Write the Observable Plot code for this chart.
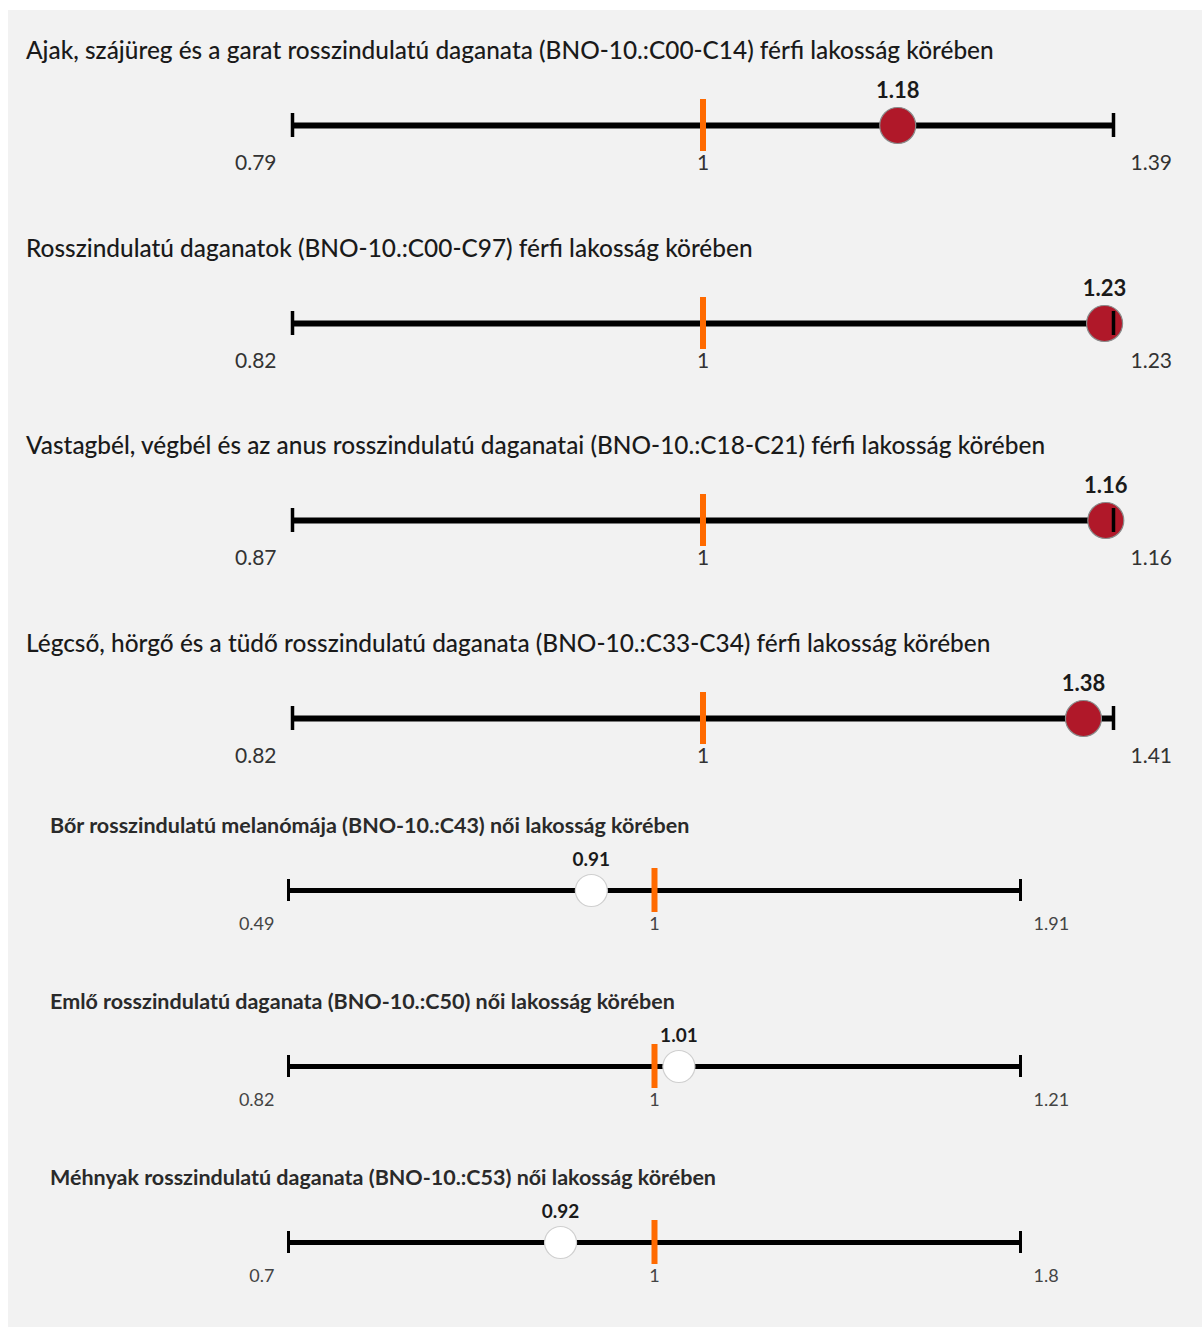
<!DOCTYPE html>
<html>
<head>
<meta charset="utf-8">
<script src="https://cdn.jsdelivr.net/npm/d3@7"></script>
<script src="https://cdn.jsdelivr.net/npm/@observablehq/plot@0.6"></script>
<style>
  html, body { margin: 0; padding: 0; background: #ffffff; }
  #panel { position: absolute; left: 8px; top: 10px; width: 1194px; height: 1317px; background: #f2f2f2; font-family: Lato, "Open Sans", sans-serif; }
  .row { position: absolute; left: 0; width: 1194px; }
  .title { white-space: nowrap; color: #1a1a1a; }
  .big .title { font-size: 24.4px; line-height: 26px; height: 26px; padding-left: 18px; font-weight: 500; }
  .small .title { font-size: 21.5px; line-height: 24px; height: 24px; padding-left: 42px; font-weight: 700; color: #2a2a2a; margin-bottom: 3px; }
  svg { display: block; }
</style>
</head>
<body>
<div id="panel"></div>
<script>
const titles = [
  "Ajak, szájüreg és a garat rosszindulatú daganata (BNO-10.:C00-C14) férfi lakosság körében",
  "Rosszindulatú daganatok (BNO-10.:C00-C97) férfi lakosság körében",
  "Vastagbél, végbél és az anus rosszindulatú daganatai (BNO-10.:C18-C21) férfi lakosság körében",
  "Légcső, hörgő és a tüdő rosszindulatú daganata (BNO-10.:C33-C34) férfi lakosság körében",
  "Bőr rosszindulatú melanómája (BNO-10.:C43) női lakosság körében",
  "Emlő rosszindulatú daganata (BNO-10.:C50) női lakosság körében",
  "Méhnyak rosszindulatú daganata (BNO-10.:C53) női lakosság körében"
];
const sexes = ["férfi", "férfi", "férfi", "férfi", "női", "női", "női"];
const lows = [0.79, 0.82, 0.87, 0.82, 0.49, 0.82, 0.7];
const highs = [1.39, 1.23, 1.16, 1.41, 1.91, 1.21, 1.8];
const values = [1.185, 1.225, 1.157, 1.38, 0.912, 1.014, 0.923];
const valueLabels = ["1.18", "1.23", "1.16", "1.38", "0.91", "1.01", "0.92"];
const lowLabels = ["0.79", "0.82", "0.87", "0.82", "0.49", "0.82", "0.7"];
const highLabels = ["1.39", "1.23", "1.16", "1.41", "1.91", "1.21", "1.8"];
const refValue = 1;
const refLabel = "1";

const panel = document.getElementById("panel");

const styles = {
  "férfi": {
    cls: "big", height: 124, ml: 284, mr: 89, lineW: 6, refW: 6, refInset: 36, endInset: 50, endW: 3.5,
    r: 18, fill: "#b01829", stroke: "#8a8a8a", valDy: -35, valSize: 22, tickDy: 38, tickSize: 21,
    lowDx: -16, highDx: 17, tickColor: "#333"
  },
  "női": {
    cls: "small", height: 100, ml: 280, mr: 182, lineW: 5, refW: 6, refInset: 28, endInset: 39, endW: 3,
    r: 16, fill: "#ffffff", stroke: "#cfcfcf", valDy: -31, valSize: 19, tickDy: 34, tickSize: 18,
    lowDx: -14, highDx: 13, tickColor: "#444"
  }
};

let bigIdx = 0, smallIdx = 0;
titles.forEach((name, i) => {
  const s = styles[sexes[i]];
  const d = {name, lo: lows[i], hi: highs[i], value: values[i], label: valueLabels[i],
             loLabel: lowLabels[i], hiLabel: highLabels[i], ref: refValue, refLabel};
  const row = document.createElement("div");
  row.className = "row " + s.cls;
  const top = s.cls === "big" ? 27 + 197.5 * (bigIdx++) : 803 + 176 * (smallIdx++);
  row.style.top = top + "px";
  const t = document.createElement("div");
  t.className = "title";
  t.textContent = name;
  row.appendChild(t);

  const chart = Plot.plot({
    width: 1194,
    height: s.height,
    marginLeft: s.ml,
    marginRight: s.mr,
    marginTop: 0,
    marginBottom: 0,
    x: {type: "linear", domain: [d.lo, d.ref, d.hi], axis: null},
    y: {type: "band", domain: [name], padding: 0, axis: null},
    style: {background: "transparent", fontFamily: "Lato, 'Open Sans', sans-serif", overflow: "visible"},
    marks: [
      Plot.ruleY([d], {y: "name", x1: "lo", x2: "hi", stroke: "#000", strokeWidth: s.lineW}),
      Plot.tickX([d], {x: "ref", y: "name", stroke: "#ff6a00", strokeWidth: s.refW, insetTop: s.refInset, insetBottom: s.refInset}),
      Plot.dot([d], {x: "value", y: "name", r: s.r, fill: s.fill, stroke: s.stroke, strokeWidth: 1.2}),
      Plot.tickX([d], {x: "lo", y: "name", stroke: "#000", strokeWidth: s.endW, insetTop: s.endInset, insetBottom: s.endInset}),
      Plot.tickX([d], {x: "hi", y: "name", stroke: "#000", strokeWidth: s.endW, insetTop: s.endInset, insetBottom: s.endInset}),
      Plot.text([d], {x: "value", y: "name", text: "label", dy: s.valDy, fontSize: s.valSize, fontWeight: 700, fill: "#1a1a1a"}),
      Plot.text([d], {x: "lo", y: "name", text: "loLabel", dy: s.tickDy, dx: s.lowDx, textAnchor: "end", fontSize: s.tickSize, fill: s.tickColor}),
      Plot.text([d], {x: "ref", y: "name", text: "refLabel", dy: s.tickDy, fontSize: s.tickSize, fill: s.tickColor}),
      Plot.text([d], {x: "hi", y: "name", text: "hiLabel", dy: s.tickDy, dx: s.highDx, textAnchor: "start", fontSize: s.tickSize, fill: s.tickColor})
    ]
  });
  row.appendChild(chart);
  panel.appendChild(row);
});
</script>
</body>
</html>
